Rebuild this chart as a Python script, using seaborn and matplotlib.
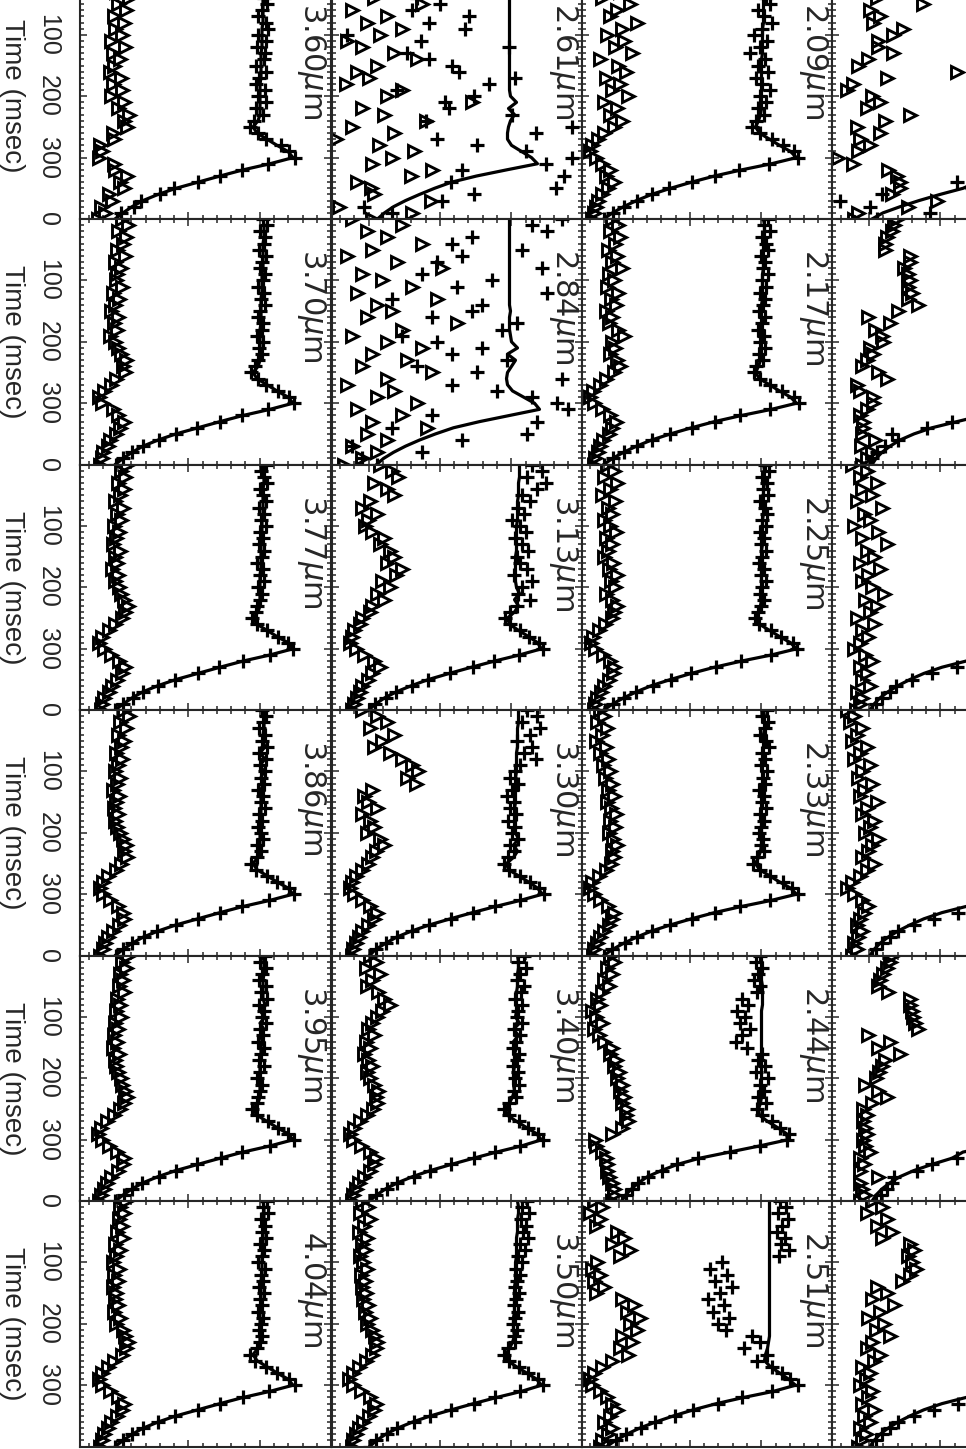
import numpy as np
import matplotlib
matplotlib.use("Agg")
import matplotlib.pyplot as plt
import seaborn as sns

# time samples (msec) shared by all panels
times = list(range(0, 401, 10))

# signal in arbitrary units (0-250 across a panel); fit = model curve for the "+" data
fit_c1 = [183,184,184,184,183,183,183,183,183,182,182,182,182,181,181,181,181,181,180,180,180,180,180,180,178,173,177,187,197,208,213,190,163,140,118,96,78,63,52,43,35]
fit_386 = [183,184,184,184,183,183,185,180,185,180,184,181,183,181,181,181,181,181,180,180,180,180,180,180,178,173,177,187,197,208,213,190,163,140,118,96,78,63,52,43,35]
fit_395 = [183,184,184,184,183,183,183,183,185,180,185,180,184,181,182,181,181,181,180,180,180,180,180,180,178,173,177,187,197,208,213,190,163,140,118,96,78,63,52,43,35]
plus_360 = [188,180,189,181,184,187,182,178,186,188,178,186,177,185,184,176,186,179,176,185,178,186,176,183,174,170,178,186,201,209,215,188,162,140,118,94,80,61,54,41,37]
plus_370 = [183,187,180,185,184,179,186,182,180,185,183,178,184,181,185,180,178,183,182,177,183,179,182,178,175,171,178,186,198,209,214,188,162,140,117,96,79,63,52,43,36]
plus_377 = [186,181,184,187,180,183,186,179,184,181,186,180,183,179,184,182,177,183,180,184,178,182,180,177,176,172,177,187,198,208,213,190,163,139,118,95,78,63,53,43,35]
plus_386 = [182,186,183,179,185,182,187,179,186,180,185,181,184,178,183,181,185,179,182,178,181,183,177,181,177,171,176,187,197,209,214,189,162,140,118,96,77,64,52,43,36]
plus_395 = [185,180,186,182,179,186,181,187,179,184,182,186,180,183,178,184,181,179,184,180,177,182,180,178,177,172,177,188,198,208,214,190,162,141,117,96,79,62,52,44,35]
plus_404 = [187,183,188,181,185,182,186,180,184,182,178,185,181,183,179,184,180,182,178,183,181,179,182,180,177,170,175,186,197,209,215,189,163,140,118,95,78,63,52,43,35]
tri_360 = [50,40,47,36,49,38,46,34,44,35,42,31,45,33,40,34,30,41,33,42,31,44,38,49,44,47,33,34,20,22,19,34,35,47,40,44,29,32,21,25,18]
tri_370 = [42,48,38,46,43,37,45,35,41,37,36,42,33,39,35,31,38,34,37,30,35,38,41,46,43,45,36,31,24,19,22,33,38,44,40,36,30,28,23,22,20]
tri_377 = [47,41,45,38,44,40,35,43,37,41,34,39,36,33,40,35,37,32,38,35,39,41,44,48,45,42,35,29,22,19,24,31,39,45,42,37,32,29,24,22,21]
tri_386 = [44,49,40,46,38,44,41,36,42,38,35,40,37,33,39,36,34,38,35,37,40,43,46,44,47,41,36,28,23,20,23,30,38,43,44,39,33,28,25,23,20]
tri_395 = [48,42,46,40,43,39,44,37,40,36,41,35,38,34,37,33,39,35,36,38,41,42,45,47,44,40,34,27,21,18,22,29,37,44,43,38,31,27,24,21,19]
tri_404 = [46,40,44,39,42,37,43,35,40,36,33,39,34,38,33,36,35,38,34,40,36,43,45,48,46,42,34,28,22,19,22,30,38,44,42,37,31,28,24,22,20]

fit_c2 = [186,187,187,186,186,186,185,185,185,185,184,184,184,184,183,183,183,183,183,182,182,182,183,181,178,174,176,185,195,205,210,190,165,142,120,99,81,66,54,45,38]
fit_340 = [186,187,187,186,186,186,185,185,185,185,184,188,182,187,182,185,183,183,183,182,182,182,183,181,178,174,176,185,195,205,210,190,165,142,120,99,81,66,54,45,38]
plus_340 = [192,186,194,188,185,192,189,183,190,186,185,190,182,188,184,181,187,185,181,186,183,187,182,184,177,172,177,187,196,206,211,188,163,142,119,98,82,65,55,44,38]
tri_340 = [38,44,34,48,40,35,46,52,58,50,45,40,36,42,34,38,32,36,40,35,38,42,46,44,45,41,35,28,22,18,21,29,38,44,42,38,32,27,24,21,20]
plus_350 = [195,190,197,189,194,191,196,188,193,186,190,184,188,185,183,187,184,182,186,183,181,185,182,183,176,172,177,187,196,206,211,188,163,142,119,98,82,65,55,44,38]
tri_350 = [30,36,28,38,32,27,35,30,33,28,31,35,29,33,30,34,31,36,33,38,35,40,43,45,44,40,34,27,21,17,21,29,38,44,42,37,31,27,24,21,20]

fit_313 = [188,188,188,187,187,187,186,186,186,186,185,185,185,185,185,184,184,184,184,184,185,188,183,187,183,176,178,187,197,206,210,188,163,140,118,97,80,65,53,44,37]
plus_313 = [200,210,195,214,205,190,198,186,192,180,188,194,183,190,196,185,188,195,182,200,190,186,198,185,178,173,178,188,197,207,211,187,162,141,118,96,80,64,54,43,37]
tri_313 = [48,60,66,42,55,62,38,30,45,36,33,40,52,48,58,62,55,70,64,50,58,45,52,40,38,30,28,22,20,18,24,32,42,48,40,36,30,28,25,22,20]

fit_330 = [187,187,187,186,186,186,186,185,185,185,185,184,184,184,184,184,183,183,183,183,184,187,182,186,182,175,177,187,197,206,211,189,164,141,119,98,80,65,54,44,38]
plus_330 = [195,205,190,208,198,185,200,192,204,188,183,178,186,180,175,182,178,184,176,183,180,186,178,182,176,172,177,188,198,207,212,188,163,141,119,97,80,65,54,44,38]
tri_330 = [30,45,55,38,62,50,42,58,70,80,86,75,84,40,32,36,45,30,38,42,35,48,52,44,40,36,30,24,20,18,22,30,38,45,42,36,30,27,24,21,20]

fit_c3 = [182,183,183,183,182,182,182,182,182,181,181,181,181,181,180,180,180,180,180,180,180,180,180,179,177,174,178,188,198,209,215,190,160,133,110,89,70,55,42,31,22]
plus_209 = [186,180,190,178,184,188,176,182,190,180,172,185,178,168,183,176,186,174,180,188,178,184,176,182,174,170,178,190,201,212,216,187,157,133,110,87,70,55,42,31,22]
tri_209 = [45,30,52,38,20,48,35,28,55,40,25,42,33,50,18,36,44,24,38,30,46,22,35,28,40,32,22,16,10,8,14,20,28,24,32,26,20,16,14,12,10]
plus_217 = [186,182,188,180,184,186,179,183,181,186,180,184,178,183,181,177,183,180,176,182,178,183,177,181,174,172,178,188,200,212,217,188,158,133,110,88,70,55,42,31,22]
tri_217 = [30,36,28,38,33,26,35,30,40,27,32,25,36,29,34,24,30,27,36,42,30,33,28,35,38,32,24,18,11,8,12,20,28,34,30,27,21,18,16,13,12]
plus_225 = [183,187,180,185,181,186,178,183,185,180,184,178,182,179,184,180,177,182,179,184,180,178,182,179,176,173,177,189,199,211,215,189,159,134,109,89,71,54,42,31,23]
tri_225 = [25,32,22,35,28,20,33,26,30,22,28,34,24,30,26,22,31,27,35,29,33,24,30,35,32,30,23,17,11,9,13,21,28,32,31,27,22,19,15,13,12]
plus_233 = [185,180,186,183,178,184,187,180,183,179,185,181,183,177,182,180,184,178,182,179,177,181,179,182,175,171,178,188,201,210,216,188,158,133,110,88,70,55,43,30,22]
tri_233 = [18,22,15,25,20,14,24,18,26,21,28,23,30,26,32,25,29,34,28,33,27,31,35,30,32,29,24,17,10,8,12,18,26,32,30,27,22,18,15,12,11]

fit_251 = [188,188,188,188,188,188,188,188,188,188,188,188,188,188,188,188,188,188,188,188,188,188,188,187,186,184,183,189,198,207,214,192,162,135,112,92,74,58,45,34,25]
plus_251 = [198,204,196,206,200,195,203,199,207,197,140,128,145,133,150,138,126,142,131,147,136,144,170,178,162,185,175,190,200,208,216,190,160,136,111,93,73,59,44,34,26]
tri_251 = [12,20,8,18,14,35,42,30,48,38,15,10,18,12,22,14,40,52,45,58,48,55,40,50,38,46,30,20,12,8,10,18,25,30,35,28,22,30,26,20,18]

fit_261 = [178,178,178,178,178,178,178,178,178,178,178,178,178,178,178,178,178,178,178,178,179,185,177,183,179,177,176,176,180,190,200,206,175,145,120,103,88,74,62,53,46]
plus_261 = [150,110,95,130,85,108,80,137,97,133,15,89,177,75,97,120,127,183,157,65,142,113,117,180,94,240,204,105,145,194,240,214,130,232,119,224,142,110,32,60,50]
tri_261 = [60,25,75,50,42,90,20,55,35,70,48,15,30,62,85,45,25,37,14,70,55,140,30,52,94,20,62,4,47,82,60,40,100,79,25,39,42,99,7,80,40]

fit_284 = [178,178,178,178,178,178,178,178,178,178,178,178,178,178,178,179,178,178,178,179,180,186,176,184,180,176,175,176,181,192,203,208,178,148,122,104,88,74,62,52,45]
plus_284 = [230,200,215,140,120,190,130,105,210,90,160,125,215,60,150,140,100,185,170,70,105,150,120,175,85,145,230,120,165,200,225,236,100,205,60,195,130,20,90,30,45]
tri_284 = [20,70,35,55,90,40,15,65,110,30,50,80,25,105,45,60,35,125,70,20,55,90,40,75,30,100,55,15,62,45,85,25,70,40,95,35,55,20,45,30,12]

fit_244 = [180,180,180,180,180,181,181,181,181,180,180,180,180,180,180,180,180,180,180,180,180,180,180,180,179,177,178,186,196,205,206,178,148,118,96,80,66,57,50,44,40]
plus_244 = [178,174,180,176,172,178,175,160,166,155,163,158,168,160,154,165,180,176,183,174,186,178,182,176,184,175,180,190,198,207,205,178,148,116,95,80,66,56,50,44,40]
tri_244 = [28,32,25,30,22,27,20,15,18,10,14,20,12,17,22,30,28,34,32,37,35,40,38,42,40,45,44,46,40,30,13,14,20,24,25,25,27,30,32,32,30]

fit_c4a = [188,188,188,188,188,188,188,188,188,188,188,188,188,188,188,188,188,188,188,188,188,188,188,188,186,182,184,192,202,212,218,205,185,160,145,131,108,87,68,51,40]
plus_c4a = [170,190,160,205,175,150,195,180,210,165,185,200,155,190,175,205,170,185,160,195,180,170,200,185,175,165,195,205,210,200,180,190,170,150,125,140,50,8,38,98,45]
tri_c4a = [30,55,20,45,45,91,38,48,41,71,61,46,46,61,36,26,125,55,21,15,40,48,35,78,53,25,48,28,38,26,6,21,56,65,68,68,60,105,76,26,22]

fit_c4b = [188,188,188,188,188,188,188,188,188,188,188,188,188,188,188,188,188,188,188,188,188,188,188,188,186,182,186,194,205,214,205,180,150,125,100,82,68,58,50,44,40]
plus_c4b = [175,195,165,200,180,160,190,175,205,170,185,195,160,185,180,200,175,190,165,190,185,175,195,180,170,165,190,200,210,195,185,170,150,120,95,60,66,53,45,40,38]
tri_c4b = [65,62,60,55,53,53,78,78,72,76,78,76,80,76,86,66,36,58,43,50,51,38,41,35,30,46,55,25,28,41,41,35,28,31,31,30,43,29,40,35,30]

fit_c4c = [188,188,188,188,188,188,188,188,188,188,188,188,188,188,188,188,188,188,188,188,188,188,188,188,186,182,186,196,206,214,200,165,134,110,92,78,66,56,48,42,38]
plus_c4c = [178,192,168,198,182,162,188,176,202,172,184,194,162,186,180,198,176,188,166,192,184,176,194,182,172,166,192,202,208,196,186,168,150,125,100,80,64,58,50,44,40]
tri_c4c = [20,35,28,45,30,40,25,50,32,38,22,46,30,55,35,42,28,48,36,30,40,52,33,45,38,25,42,30,36,28,22,33,40,28,35,30,38,25,30,28,24]

fit_c4d = [188,188,188,188,188,188,188,188,188,188,188,188,188,188,188,188,188,188,188,188,188,188,188,188,186,182,186,196,206,214,200,165,134,110,92,78,66,56,48,42,38]
plus_c4d = [182,190,170,196,184,166,186,178,200,174,186,192,164,188,182,196,178,186,168,190,186,178,192,184,174,168,190,200,206,198,184,170,152,126,102,82,66,58,50,44,40]
tri_c4d = [15,22,18,30,25,20,35,28,22,38,30,26,40,32,28,45,35,30,42,38,33,46,40,36,30,42,35,28,20,15,22,30,36,32,28,25,30,26,22,25,20]

fit_c4e = [188,188,188,188,188,188,188,188,188,188,188,188,188,188,188,188,188,188,188,188,188,188,188,188,186,182,186,196,206,212,190,160,131,120,100,82,68,58,50,44,40]
plus_c4e = [176,192,166,200,180,160,190,174,204,170,184,196,160,186,178,200,174,188,164,194,182,174,196,182,172,166,190,202,208,196,184,166,150,125,100,85,62,60,55,49,44]
tri_c4e = [60,58,55,51,48,46,56,78,78,80,81,83,86,36,58,46,68,53,50,47,44,33,46,55,40,31,35,31,33,35,31,33,38,28,32,28,46,28,30,33,28]

fit_c4f = [188,188,188,188,188,188,188,188,188,188,188,188,188,188,188,188,188,188,188,188,188,188,188,188,186,182,186,196,206,214,200,165,134,110,92,78,66,56,48,42,38]
plus_c4f = [180,194,170,198,182,164,188,178,202,172,186,194,162,188,180,198,176,190,166,192,184,178,194,182,172,166,190,200,208,196,186,170,150,126,102,82,66,58,50,44,40]
tri_c4f = [40,50,35,55,45,60,50,78,82,76,80,84,78,70,45,55,40,62,48,36,52,44,58,40,35,48,42,30,38,34,28,40,36,30,42,32,38,28,34,30,26]

panels = [
    ("3.60", 0, 0, fit_c1, plus_360, tri_360), ("3.70", 0, 1, fit_c1, plus_370, tri_370),
    ("3.77", 0, 2, fit_c1, plus_377, tri_377), ("3.86", 0, 3, fit_386, plus_386, tri_386),
    ("3.95", 0, 4, fit_395, plus_395, tri_395), ("4.04", 0, 5, fit_c1, plus_404, tri_404),
    ("2.61", 1, 0, fit_261, plus_261, tri_261), ("2.84", 1, 1, fit_284, plus_284, tri_284),
    ("3.13", 1, 2, fit_313, plus_313, tri_313), ("3.30", 1, 3, fit_330, plus_330, tri_330),
    ("3.40", 1, 4, fit_340, plus_340, tri_340), ("3.50", 1, 5, fit_c2, plus_350, tri_350),
    ("2.09", 2, 0, fit_c3, plus_209, tri_209), ("2.17", 2, 1, fit_c3, plus_217, tri_217),
    ("2.25", 2, 2, fit_c3, plus_225, tri_225), ("2.33", 2, 3, fit_c3, plus_233, tri_233),
    ("2.44", 2, 4, fit_244, plus_244, tri_244), ("2.51", 2, 5, fit_251, plus_251, tri_251),
    (None, 3, 0, fit_c4a, plus_c4a, tri_c4a), (None, 3, 1, fit_c4b, plus_c4b, tri_c4b),
    (None, 3, 2, fit_c4c, plus_c4c, tri_c4c), (None, 3, 3, fit_c4d, plus_c4d, tri_c4d),
    (None, 3, 4, fit_c4e, plus_c4e, tri_c4e), (None, 3, 5, fit_c4f, plus_c4f, tri_c4f),
]

sns.set_style("ticks")
plt.rcParams["font.family"] = ["Liberation Sans", "DejaVu Sans"]

W, H = 966, 1449
fig = plt.figure(figsize=(W / 100, H / 100), dpi=100)

col_left = [80, 331.5, 581.5, 832]
row_top = [-26.6, 219, 464.6, 710, 955.6, 1201]
PW, PH = 250.6, 245.6
xtick_pos = [8.5 + 14.27 * k for k in range(17)]

for label, c, r, fit, plus, tri in panels:
    ax = fig.add_axes([col_left[c] / W, 1 - (row_top[r] + PH) / H, PW / W, PH / H])
    sns.lineplot(x=fit, y=times, sort=False, estimator=None, color="k", lw=2.3, ax=ax)
    ax.plot(plus, times, ls="none", marker="+", ms=10.5, mew=2.3, color="k")
    ax.plot(tri, times, ls="none", marker=">", ms=8.5, mew=2.1, mfc="none", mec="k")
    ax.set_xlim(0, PW)
    ax.set_ylim(400, 0)
    ax.set_xlabel("")
    ax.set_ylabel("")
    ax.set_xticks([xtick_pos[2], xtick_pos[7], xtick_pos[12]])
    ax.set_xticks(xtick_pos, minor=True)
    ax.set_yticks([0, 100, 200, 300])
    ax.set_yticks(range(0, 401, 10), minor=True)
    ax.tick_params(which="both", direction="in", top=True, bottom=True, left=True, right=True,
                   labelbottom=False, labelleft=False, width=1.1)
    ax.tick_params(which="major", length=5)
    ax.tick_params(which="minor", length=2.6)
    for s in ax.spines.values():
        s.set_linewidth(1.5)
    if c == 0:
        ax.tick_params(axis="y", which="major", labelleft=True, pad=23, labelsize=18)
        first = "" if r == 0 else "0"
        ax.set_yticklabels([first, "100", "200", "300"], rotation=-90, va="center", ha="center")
        fig.text(12 / W, 1 - (row_top[r] + PH / 2) / H, "Time (msec)", rotation=-90,
                 ha="center", va="center", fontsize=20)
    if label:
        ax.text(0.925, 1 - 30 / PH, label + r"$\mu$m", transform=ax.transAxes, rotation=-90,
                ha="center", va="top", fontsize=22, family="DejaVu Sans")

fig.savefig("out.png", dpi=100)
